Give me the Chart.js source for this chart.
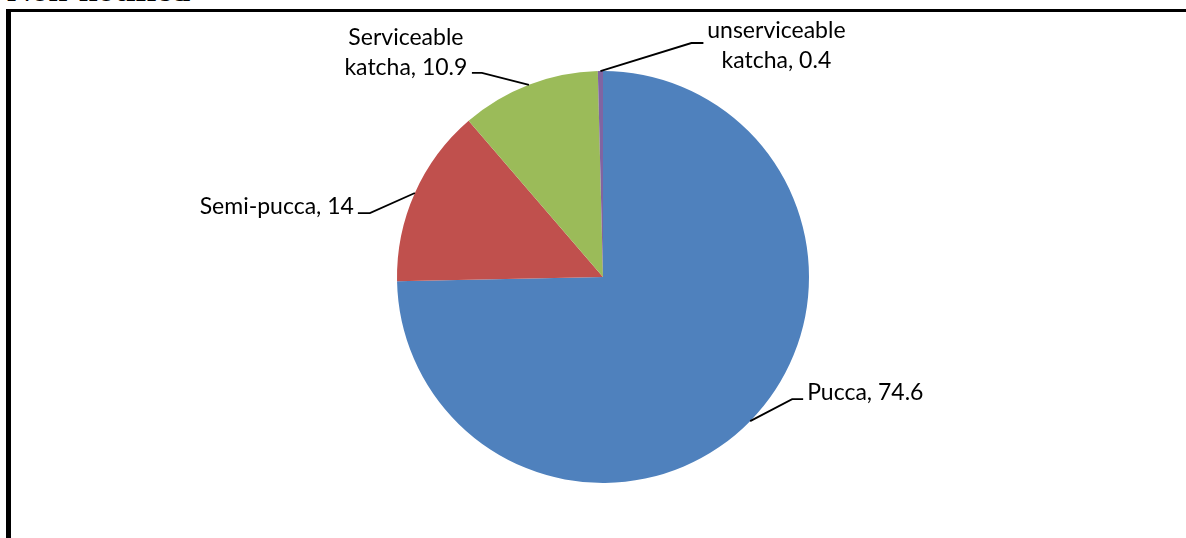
<!DOCTYPE html>
<html>
<head>
<meta charset="utf-8">
<script src="https://cdn.jsdelivr.net/npm/chart.js@4/dist/chart.umd.min.js"></script>
<style>
  html, body { margin: 0; padding: 0; background: #fff; }
  #wrap { position: relative; width: 1186px; height: 538px; overflow: hidden; background: #fff; }
  #title { position: absolute; left: 7px; top: -27px; font-family: "Liberation Serif", "DejaVu Serif", serif; font-weight: bold; font-size: 34px; line-height: 34px; color: #000; white-space: nowrap; }
  #frameTop { position: absolute; left: 6px; top: 9px; width: 1180px; height: 3px; background: #000; }
  #frameLeft { position: absolute; left: 6px; top: 9px; width: 5px; height: 529px; background: #000; }
  canvas { position: absolute; left: 0; top: 0; }
</style>
</head>
<body>
<div id="wrap">
  <div id="title">Non-notified</div>
  <canvas id="c" width="1186" height="538"></canvas>
  <div id="frameTop"></div>
  <div id="frameLeft"></div>
</div>
<script>
const categories = ["Pucca", "Semi-pucca", "Serviceable katcha", "unserviceable katcha"];
const values = [74.6, 14, 10.9, 0.4];
const labelLines = [["Pucca, 74.6"], ["Semi-pucca, 14"], ["Serviceable", "katcha, 10.9"], ["unserviceable", "katcha, 0.4"]];
const colors = ["#4F81BD", "#C0504D", "#9BBB59", "#8064A2"];

// Leader/label layout (styling): elbow offset from arc anchor, horizontal tail, text placement
const labelLayout = [
  { ex: 42, ey: -22, tail: 11, align: "left", tx: 4, ty: [1] },
  { ex: -45, ey: 20, tail: -12, align: "right", tx: -4, ty: [1] },
  { ex: -47, ey: -12, tail: -10, align: "center", tx: -66, ty: [-28, 2] },
  { ex: 91, ey: -28, tail: 12, align: "center", tx: 73, ty: [-5, 25] }
];

const leaderPlugin = {
  id: "leaders",
  afterDraw(chart) {
    const ctx = chart.ctx;
    const meta = chart.getDatasetMeta(0);
    ctx.save();
    ctx.font = "23px Lato, 'Open Sans', sans-serif";
    ctx.fillStyle = "#000";
    ctx.strokeStyle = "#000";
    ctx.lineWidth = 1.8;
    ctx.textBaseline = "alphabetic";
    meta.data.forEach((arc, i) => {
      const mid = (arc.startAngle + arc.endAngle) / 2;
      const ax = arc.x + Math.cos(mid) * arc.outerRadius;
      const ay = arc.y + Math.sin(mid) * arc.outerRadius;
      const L = labelLayout[i];
      const ex = ax + L.ex, ey = ay + L.ey;
      const endX = ex + L.tail;
      ctx.beginPath();
      ctx.moveTo(ax, ay);
      ctx.lineTo(ex, ey);
      ctx.lineTo(endX, ey);
      ctx.stroke();
      ctx.textAlign = L.align;
      labelLines[i].forEach((t, k) => {
        ctx.fillText(t, endX + L.tx, ey + L.ty[k]);
      });
    });
    ctx.restore();
  }
};

new Chart(document.getElementById("c"), {
  type: "pie",
  data: {
    labels: categories,
    datasets: [{ data: values, backgroundColor: colors, borderWidth: 0 }]
  },
  options: {
    responsive: false,
    animation: false,
    layout: { padding: { top: 71, bottom: 55, left: 397, right: 377 } },
    plugins: { legend: { display: false }, tooltip: { enabled: false } }
  },
  plugins: [leaderPlugin]
});
</script>
</body>
</html>
